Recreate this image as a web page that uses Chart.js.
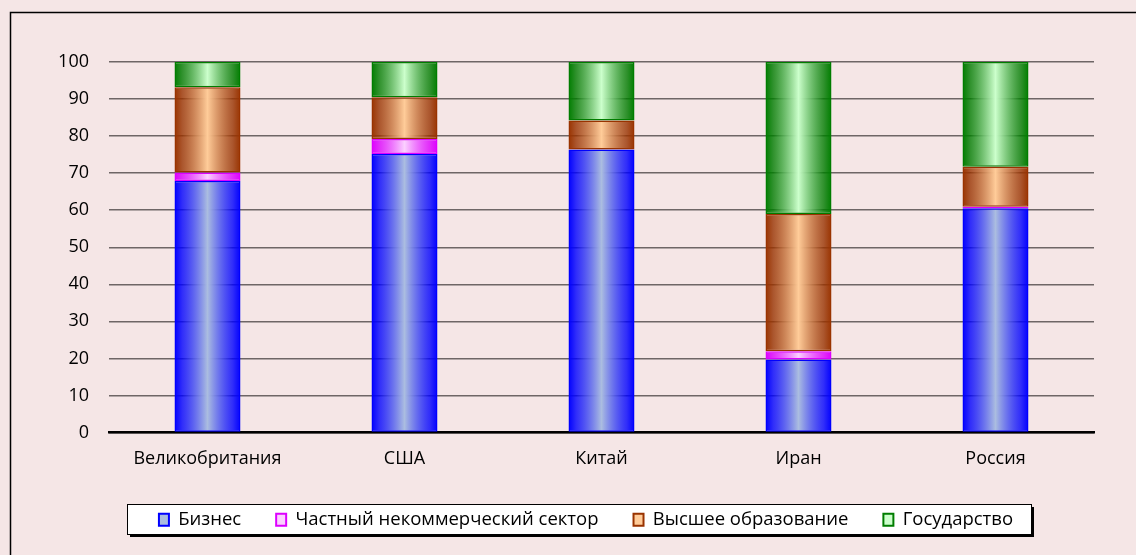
<!DOCTYPE html>
<html>
<head>
<meta charset="utf-8">
<script src="https://cdn.jsdelivr.net/npm/chart.js@4.4.1/dist/chart.umd.min.js"></script>
<style>
  html, body { margin: 0; padding: 0; background: #f5e6e6; }
  #wrap { width: 1136px; height: 555px; }
</style>
</head>
<body>
<div id="wrap"><canvas id="rdChart" width="1136" height="555"></canvas></div>
<script>

const countries = ["Великобритания", "США", "Китай", "Иран", "Россия"];

const business   = [67.9, 75.2, 76.4, 19.7, 60.5];
const nonprofit  = [2.3, 4.0, 0, 2.2, 0.4];
const higherEd   = [23.0, 11.3, 7.8, 37.1, 10.8];
const government = [6.8, 9.5, 15.8, 41.0, 28.3];

const seriesNames = ["Бизнес", "Частный некоммерческий сектор", "Высшее образование", "Государство"];

const yTicks = [0, 10, 20, 30, 40, 50, 60, 70, 80, 90, 100];

const BAR_FRAC = 0.335;
const FONT = "'Open Sans', 'Liberation Sans', sans-serif";

// dark edge / light centre, like the old office cylinder look
const palette = [
    { dark: "#0000ff", light: "#abbde0" },
    { dark: "#dd00ff", light: "#fbd0ff" },
    { dark: "#993300", light: "#ffcc99" },
    { dark: "#007d00", light: "#ccffcc" }
];

function barGradient(c, p) {

    const chart = c.chart;

    if (!chart.chartArea || c.dataIndex === undefined)
        return p.light;

    const xs = chart.scales.x;
    const cx = xs.getPixelForValue(c.dataIndex);
    const half = xs.width / countries.length * BAR_FRAC / 2;

    const g = chart.ctx.createLinearGradient(cx - half, 0, cx + half, 0);
    g.addColorStop(0, p.dark);
    g.addColorStop(0.12, p.dark + "cc");
    g.addColorStop(0.5, p.light);
    g.addColorStop(0.88, p.dark + "cc");
    g.addColorStop(1, p.dark);

    return g;
}

function makeSet(label, values, p) {

    return {
        label: label,
        data: values,
        backgroundColor: c => barGradient(c, p),
        borderColor: p.dark,
        borderWidth: 1.5,
        borderSkipped: false,
        categoryPercentage: 1,
        barPercentage: BAR_FRAC
    };
}

// page background, outer frame and the white legend box with shadow
const framePlugin = {

    id: "frame",

    afterLayout(chart) {
        // legend row sits a bit right of the canvas centre in the original
        chart.legend.left += 33;
        chart.legend.right += 33;
    },

    beforeDraw(chart) {

        const ctx = chart.ctx;

        ctx.save();

        ctx.fillStyle = "#f5e6e6";
        ctx.fillRect(0, 0, chart.width, chart.height);

        ctx.strokeStyle = "#000";
        ctx.lineWidth = 1.5;
        ctx.strokeRect(10.5, 12.5, 1300, 700);

        const bx = 127, by = 504, bw = 904, bh = 30;

        ctx.fillStyle = "#000";
        ctx.fillRect(bx + 3, by + 3, bw, bh);

        ctx.fillStyle = "#fff";
        ctx.fillRect(bx, by, bw, bh);

        ctx.lineWidth = 1;
        ctx.strokeRect(bx + 0.5, by + 0.5, bw, bh);

        ctx.restore();
    }
};

const chart = new Chart(document.getElementById("rdChart").getContext("2d"), {

    type: "bar",

    data: {
        labels: countries,
        datasets: [
            makeSet(seriesNames[0], business, palette[0]),
            makeSet(seriesNames[1], nonprofit, palette[1]),
            makeSet(seriesNames[2], higherEd, palette[2]),
            makeSet(seriesNames[3], government, palette[3])
        ]
    },

    options: {

        responsive: false,
        animation: false,
        devicePixelRatio: 1,

        layout: {
            padding: { left: 12, top: 62, right: 42, bottom: 16 }
        },

        plugins: {

            tooltip: { enabled: false },

            legend: {
                display: true,
                position: "bottom",
                labels: {
                    color: "#000",
                    font: { family: FONT, size: 18.5 },
                    boxWidth: 10,
                    boxHeight: 12,
                    padding: 35,
                    generateLabels: ch => ch.data.datasets.map((d, i) => ({
                        text: d.label,
                        fillStyle: palette[i].light,
                        strokeStyle: palette[i].dark,
                        lineWidth: 2,
                        datasetIndex: i
                    }))
                }
            }
        },

        scales: {

            x: {
                stacked: true,
                grid: { display: false, drawTicks: false },
                border: { display: true, color: "#000", width: 2.5 },
                ticks: {
                    color: "#000",
                    font: { family: FONT, size: 18 },
                    padding: 16
                },
                afterFit: s => { s.height = 43; }
            },

            y: {
                stacked: true,
                min: 0,
                max: 100,
                afterBuildTicks: s => { s.ticks = yTicks.map(v => ({ value: v })); },
                grid: {
                    color: "#6e6666",
                    lineWidth: 1.5,
                    drawTicks: false
                },
                border: { display: false },
                ticks: {
                    color: "#000",
                    font: { family: FONT, size: 18 },
                    padding: 20
                },
                afterFit: s => { s.width = 97; }
            }
        }
    },

    plugins: [framePlugin]
});

</script>
</body>
</html>
